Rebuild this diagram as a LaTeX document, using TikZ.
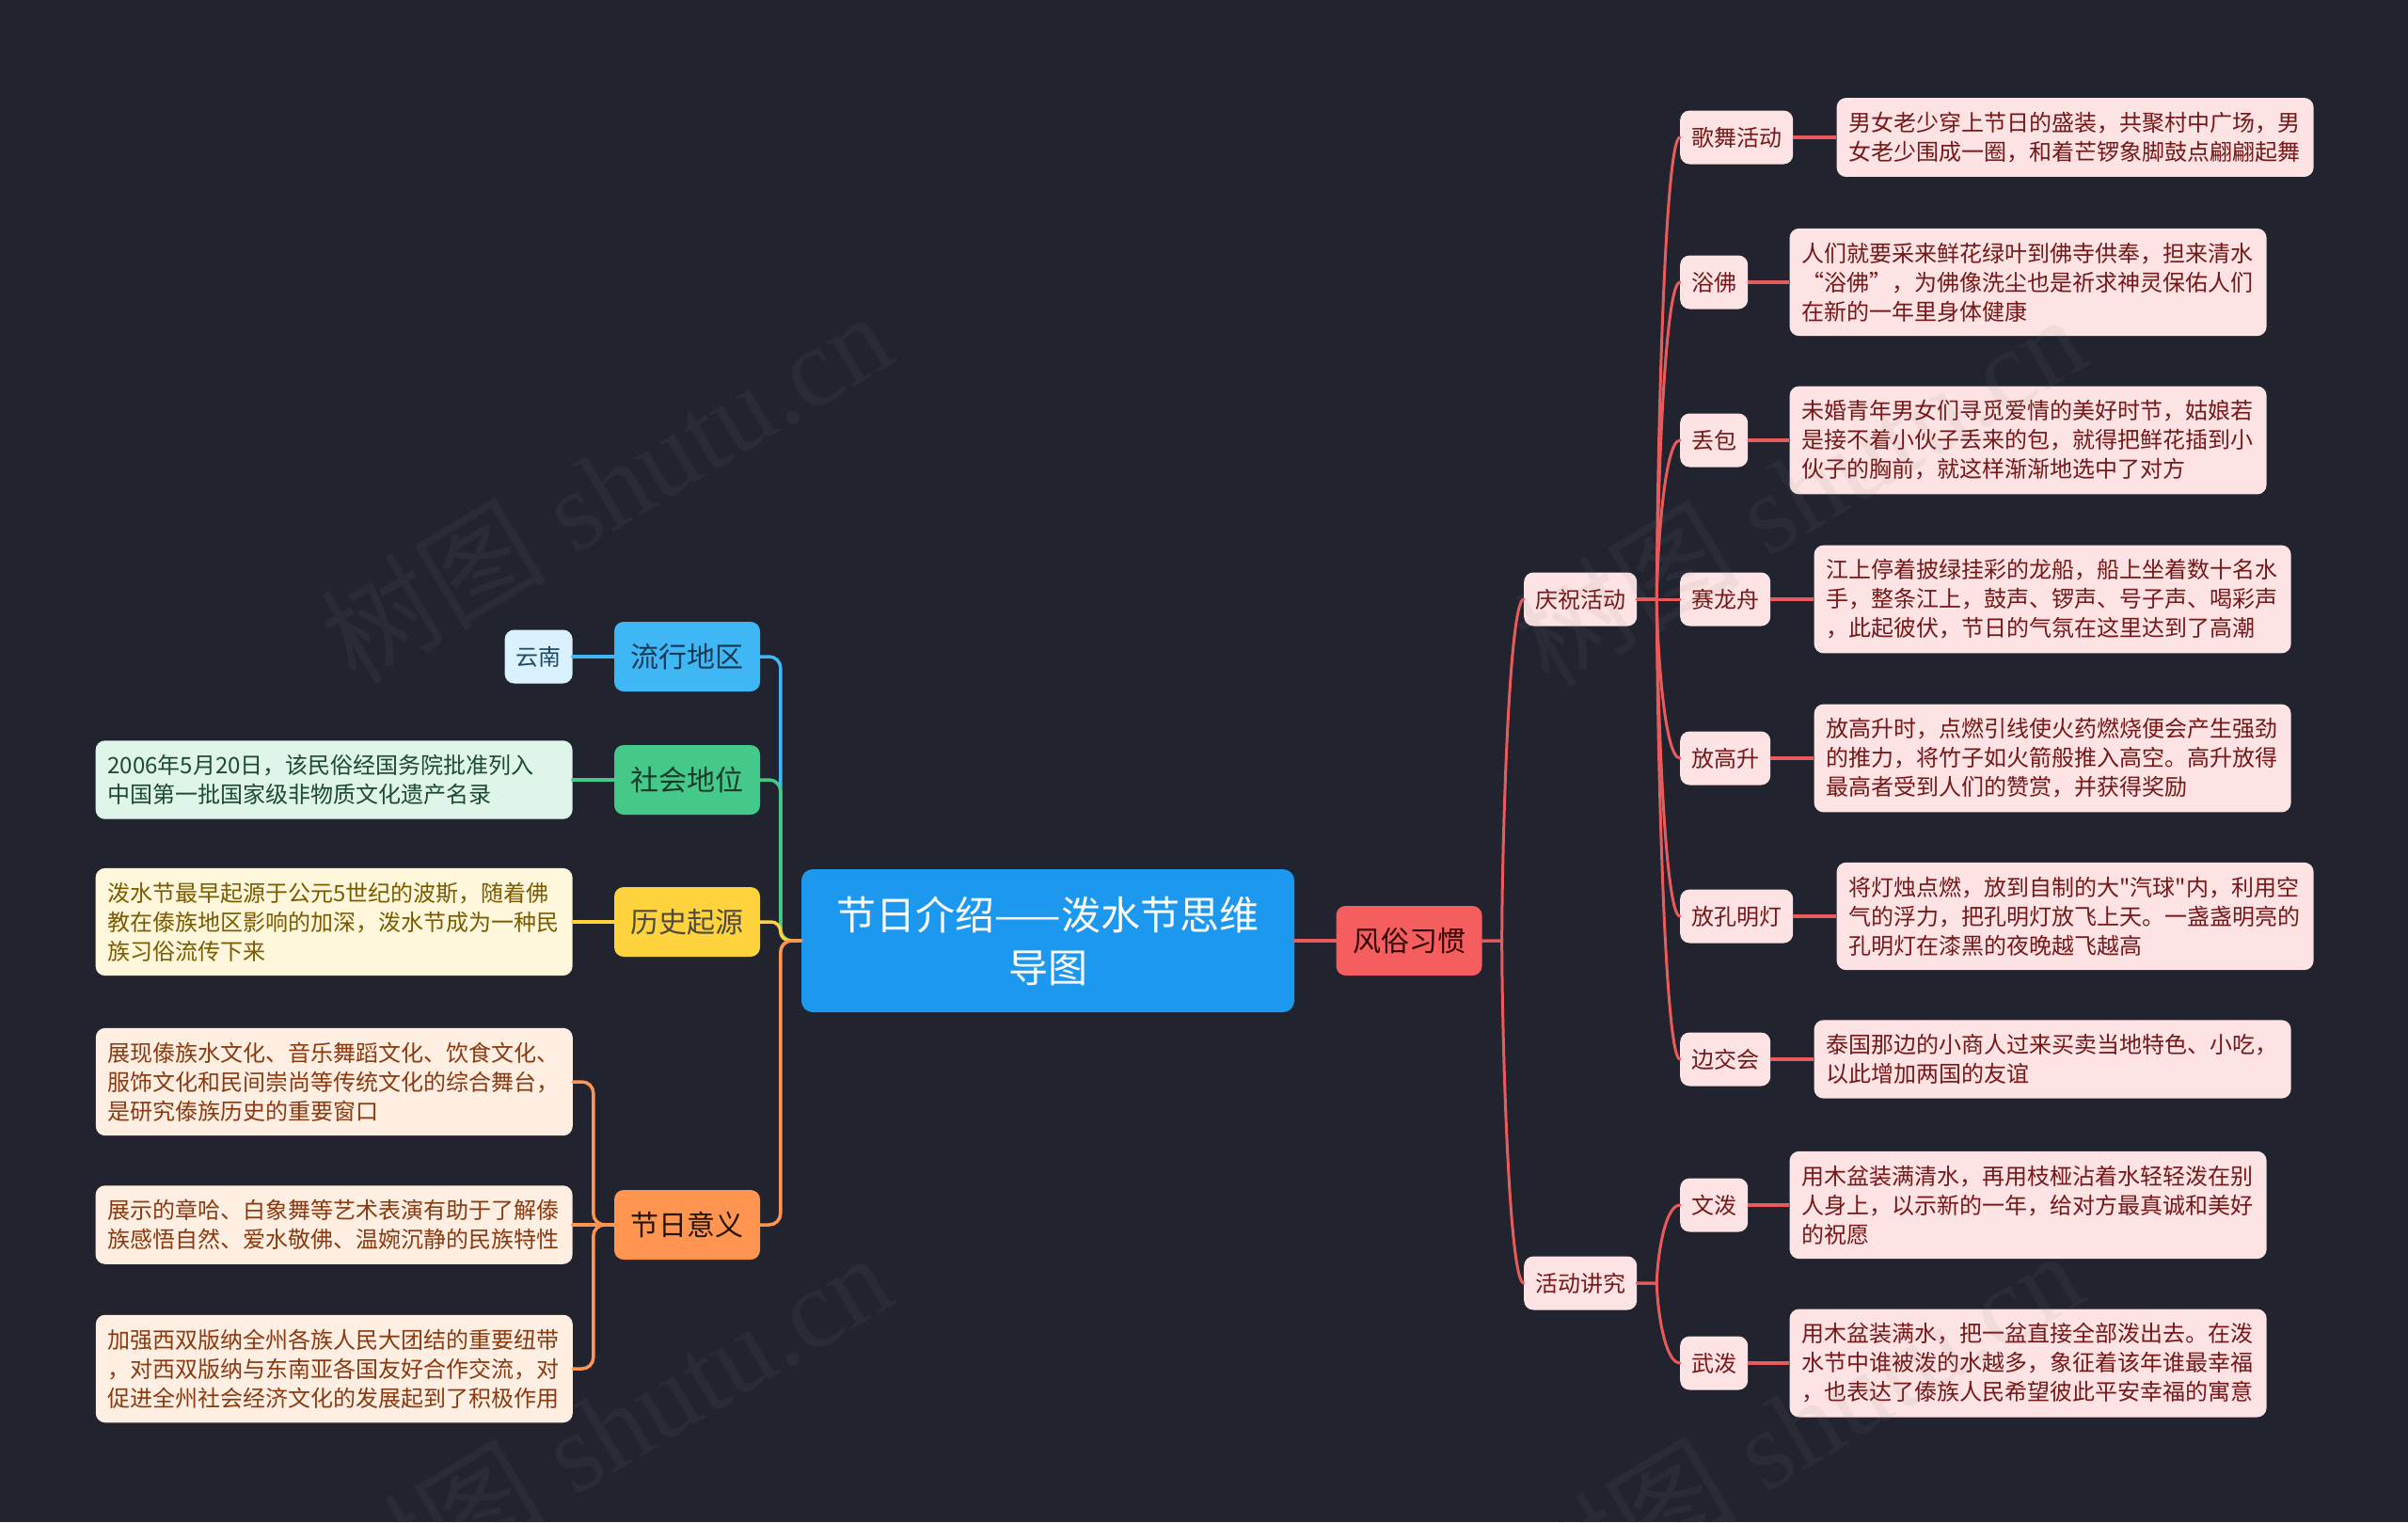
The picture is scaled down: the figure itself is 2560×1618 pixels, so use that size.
\documentclass[tikz,border=0pt]{standalone}
\usepackage{fontspec}
\setmainfont{Noto Sans CJK SC}
\newfontfamily\qfont{Noto Sans CJK SC}[Ligatures=TeXOff]
\newfontfamily\wmfont{Liberation Serif}
\usetikzlibrary{calc}
\definecolor{bg}{HTML}{21242F}
\definecolor{cmain}{HTML}{1C98EF}
\definecolor{cblue}{HTML}{3FB7F5}
\definecolor{cgreen}{HTML}{45C98A}
\definecolor{cyellow}{HTML}{FFD33D}
\definecolor{corange}{HTML}{FF9550}
\definecolor{cred}{HTML}{F45E5E}
\definecolor{lred}{HTML}{E95A5B}
\definecolor{fblue}{HTML}{DAF2FD}
\definecolor{fgreen}{HTML}{DFF5EA}
\definecolor{fyellow}{HTML}{FFF7DB}
\definecolor{forange}{HTML}{FFEEE2}
\definecolor{fred}{HTML}{FDE3E3}
\definecolor{tblue}{HTML}{1B4A66}
\definecolor{tgreen}{HTML}{1D4A32}
\definecolor{tyellow}{HTML}{7A5B00}
\definecolor{torange}{HTML}{8A3A10}
\definecolor{tred}{HTML}{761818}
\definecolor{t1blue}{HTML}{153A55}
\newcommand\mmlink[3]{\draw[#1] let \p1=(#2.east), \p2=(#3.west) in (\p1) -- ++(21pt,0) .. controls ({\x1+21pt},{\y1+0.25*(\y2-\y1)}) and ({\x1+21pt+0.3*(\x2-\x1-21pt)},\y2) .. (\p2);}
\newcommand\wmtext{树图\hspace{0.25em}{\wmfont shutu.cn}}
\newcommand\dq{{\qfont "}}
\begin{document}
\begin{tikzpicture}[x=1pt,y=-1pt,
  mainnode/.style={fill=cmain, text=white, rounded corners=12pt, minimum width=524pt, minimum height=152pt, align=center, text width=480pt, font=\fontsize{42pt}{56pt}\selectfont},
  lone/.style={rounded corners=10pt, minimum width=155pt, minimum height=74pt, inner xsep=0pt, font=\fontsize{30pt}{36pt}\selectfont},
  small/.style={rounded corners=10pt, minimum height=57pt, inner xsep=12pt, inner ysep=0pt, font=\fontsize{24pt}{29pt}\selectfont},
  leaf/.style={rounded corners=10pt, align=left, text width=481pt, inner xsep=13pt, inner ysep=15pt, font=\fontsize{24pt}{31pt}\selectfont},
  redsmall/.style={small, fill=fred, text=tred},
  redleaf/.style={leaf, fill=fred, text=tred, anchor=west},
  ln/.style={line width=3.5pt, line cap=round},
  lrd/.style={draw=lred, line width=3pt, line cap=round},
  lrt/.style={draw=lred, line width=4.5pt},
  wm/.style={text=gray, opacity=0.09, rotate=31, inner sep=0pt, font=\fontsize{120pt}{130pt}\selectfont}
]
\useasboundingbox[fill=bg] (0,0) rectangle (2560,1618);

% centre
\node[mainnode] (main) at (1114,1000) {节日介绍——泼水节思维\\导图};

% left branches
\node[lone, fill=cblue, text=t1blue] (n1) at (730.5,698) {流行地区};
\node[lone, fill=cgreen, text=tgreen!80!black] (n2) at (730.5,829) {社会地位};
\node[lone, fill=cyellow, text=black!80!yellow] (n3) at (730.5,980) {历史起源};
\node[lone, fill=corange, text=black!85!orange] (n4) at (730.5,1302) {节日意义};

\node[small, fill=fblue, text=tblue, anchor=east] (yn) at ([xshift=-44pt]n1.west) {云南};
\node[leaf, fill=fgreen, text=tgreen, anchor=east] (l2) at ([xshift=-44pt]n2.west) {2006年5月20日，该民俗经国务院批准列入\\中国第一批国家级非物质文化遗产名录};
\node[leaf, fill=fyellow, text=tyellow, anchor=east] (l3) at ([xshift=-44pt]n3.west) {泼水节最早起源于公元5世纪的波斯，随着佛\\教在傣族地区影响的加深，泼水节成为一种民\\族习俗流传下来};
\node[leaf, fill=forange, text=torange, anchor=east] (l4a) at (609,1150) {展现傣族水文化、音乐舞蹈文化、饮食文化、\\服饰文化和民间崇尚等传统文化的综合舞台，\\是研究傣族历史的重要窗口};
\node[leaf, fill=forange, text=torange, anchor=east] (l4b) at ([xshift=-44pt]n4.west) {展示的章哈、白象舞等艺术表演有助于了解傣\\族感悟自然、爱水敬佛、温婉沉静的民族特性};
\node[leaf, fill=forange, text=torange, anchor=east] (l4c) at (609,1455) {加强西双版纳全州各族人民大团结的重要纽带\\，对西双版纳与东南亚各国友好合作交流，对\\促进全州社会经济文化的发展起到了积极作用};

\draw[ln, draw=cblue, rounded corners=12pt] (main.west) -- ++(-22,0) |- (n1.east);
\draw[ln, draw=cgreen, rounded corners=12pt] (main.west) -- ++(-22,0) |- (n2.east);
\draw[ln, draw=cyellow, rounded corners=10pt] (main.west) -- ++(-22,0) |- (n3.east);
\draw[ln, draw=corange, rounded corners=12pt] (main.west) -- ++(-22,0) |- (n4.east);
\draw[ln, draw=cblue] (n1.west) -- (yn.east);
\draw[ln, draw=cgreen] (n2.west) -- (l2.east);
\draw[ln, draw=cyellow] (n3.west) -- (l3.east);
\draw[ln, draw=corange, rounded corners=12pt] (n4.west) -- ++(-22,0) |- (l4a.east);
\draw[ln, draw=corange] (n4.west) -- (l4b.east);
\draw[ln, draw=corange, rounded corners=12pt] (n4.west) -- ++(-22,0) |- (l4c.east);

% right branch
\node[lone, fill=cred, text=black!80!red] (fx) at (1498,1000) {风俗习惯};
\draw[lrd, line width=4pt] (main.east) -- (fx.west);

\node[redsmall, anchor=west] (qz) at (1620,637) {庆祝活动};
\node[redsmall, anchor=west] (hd) at (1620,1364) {活动讲究};

\node[redsmall, anchor=west] (c1) at (1786,146) {歌舞活动};
\node[redsmall, anchor=west] (c2) at (1786,300) {浴佛};
\node[redsmall, anchor=west] (c3) at (1786,468) {丢包};
\node[redsmall, anchor=west] (c4) at (1786,637) {赛龙舟};
\node[redsmall, anchor=west] (c5) at (1786,806) {放高升};
\node[redsmall, anchor=west] (c6) at (1786,974) {放孔明灯};
\node[redsmall, anchor=west] (c7) at (1786,1126) {边交会};
\node[redsmall, anchor=west] (c8) at (1786,1281) {文泼};
\node[redsmall, anchor=west] (c9) at (1786,1449) {武泼};

\node[redleaf] (g1) at ([xshift=46pt]c1.east) {男女老少穿上节日的盛装，共聚村中广场，男\\女老少围成一圈，和着芒锣象脚鼓点翩翩起舞};
\node[redleaf] (g2) at ([xshift=44pt]c2.east) {人们就要采来鲜花绿叶到佛寺供奉，担来清水\\“浴佛”，为佛像洗尘也是祈求神灵保佑人们\\在新的一年里身体健康};
\node[redleaf] (g3) at ([xshift=44pt]c3.east) {未婚青年男女们寻觅爱情的美好时节，姑娘若\\是接不着小伙子丢来的包，就得把鲜花插到小\\伙子的胸前，就这样渐渐地选中了对方};
\node[redleaf] (g4) at ([xshift=46pt]c4.east) {江上停着披绿挂彩的龙船，船上坐着数十名水\\手，整条江上，鼓声、锣声、号子声、喝彩声\\，此起彼伏，节日的气氛在这里达到了高潮};
\node[redleaf] (g5) at ([xshift=46pt]c5.east) {放高升时，点燃引线使火药燃烧便会产生强劲\\的推力，将竹子如火箭般推入高空。高升放得\\最高者受到人们的赞赏，并获得奖励};
\node[redleaf] (g6) at ([xshift=46pt]c6.east) {将灯烛点燃，放到自制的大\dq 汽球\dq 内，利用空\\气的浮力，把孔明灯放飞上天。一盏盏明亮的\\孔明灯在漆黑的夜晚越飞越高};
\node[redleaf] (g7) at ([xshift=46pt]c7.east) {泰国那边的小商人过来买卖当地特色、小吃，\\以此增加两国的友谊};
\node[redleaf] (g8) at ([xshift=44pt]c8.east) {用木盆装满清水，再用枝桠沾着水轻轻泼在别\\人身上，以示新的一年，给对方最真诚和美好\\的祝愿};
\node[redleaf] (g9) at ([xshift=44pt]c9.east) {用木盆装满水，把一盆直接全部泼出去。在泼\\水节中谁被泼的水越多，象征着该年谁最幸福\\，也表达了傣族人民希望彼此平安幸福的寓意};

\mmlink{lrd}{fx}{qz}
\mmlink{lrd}{fx}{hd}
\mmlink{lrd}{qz}{c1}
\mmlink{lrd}{qz}{c2}
\mmlink{lrd}{qz}{c3}
\mmlink{lrd}{qz}{c4}
\mmlink{lrd}{qz}{c5}
\mmlink{lrd}{qz}{c6}
\mmlink{lrd}{qz}{c7}
\mmlink{lrd}{hd}{c8}
\mmlink{lrd}{hd}{c9}
\draw[lrt] (c1.east) -- (g1.west);
\draw[lrt] (c2.east) -- (g2.west);
\draw[lrt] (c3.east) -- (g3.west);
\draw[lrt] (c4.east) -- (g4.west);
\draw[lrt] (c5.east) -- (g5.west);
\draw[lrt] (c6.east) -- (g6.west);
\draw[lrt] (c7.east) -- (g7.west);
\draw[lrt] (c8.east) -- (g8.west);
\draw[lrt] (c9.east) -- (g9.west);

% watermarks
\node[wm] (w1) at (644,517) {\wmtext};
\node[wm] (w2) at (1913,520) {\wmtext};
\node[wm] (w3) at (644,1518) {\wmtext};
\node[wm] (w4) at (1910,1515) {\wmtext};
\end{tikzpicture}
\end{document}
